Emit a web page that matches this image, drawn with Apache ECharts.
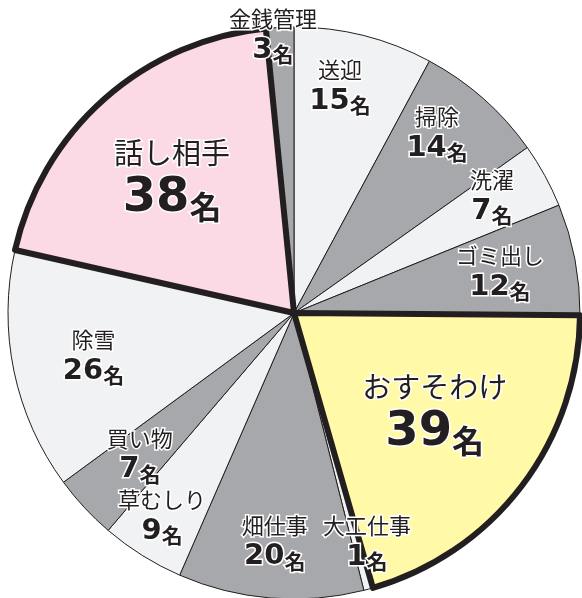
<!DOCTYPE html>
<html>
<head>
<meta charset="utf-8">
<style>
  html, body { margin: 0; padding: 0; background: #ffffff; }
  #chart { width: 582px; height: 598px; }
</style>
<script src="https://cdn.jsdelivr.net/npm/echarts@6/dist/echarts.min.js"></script>
</head>
<body>
<div id="chart"></div>
<script>
// ---- data ----
const categories = ['送迎', '掃除', '洗濯', 'ゴミ出し', 'おすそわけ', '大工仕事', '畑仕事', '草むしり', '買い物', '除雪', '話し相手', '金銭管理'];
const values = [15, 14, 7, 12, 39, 1, 20, 9, 7, 26, 38, 3];
const unit = '名';
const highlighted = ['おすそわけ', '話し相手'];

// ---- styling / layout config (not data) ----
const LIGHT = '#f1f2f4', DARK = '#a7a8ab', PINK = '#fbd9e5', YELLOW = '#fff9a8';
const sliceColors = [LIGHT, DARK, LIGHT, DARK, YELLOW, LIGHT, DARK, LIGHT, DARK, LIGHT, PINK, DARK];
const labelRadius = [232, 230, 230, 210, 172, 240, 229, 242, 209, 205, 182, 279];
const labelAngleShift = [-2.7, -3, -1.9, -0.5, -2.1, -2.6, 0.1, 1, 0.4, -0.3, -0.6, -1.5];
const CX = 294, CY = 313, R = 286;
const INK = '#231f20';
const FONT = '"Noto Sans CJK JP", "Noto Sans", sans-serif';
const NUMFONT = '"DejaVu Sans", "Noto Sans", sans-serif';

const total = values.reduce((a, b) => a + b, 0);
const midAngles = [];
{
  let acc = 0;
  values.forEach(v => { midAngles.push((acc + v / 2) / total * 360); acc += v; });
}

const chart = echarts.init(document.getElementById('chart'), null, { renderer: 'canvas' });

const txtBase = { color: INK, textBorderColor: '#ffffff', textBorderWidth: 3, fontFamily: FONT };
const rich = {
  n:  Object.assign({}, txtBase, { fontSize: 22, fontWeight: 'normal', lineHeight: 28 }),
  v:  Object.assign({}, txtBase, { fontFamily: NUMFONT, fontSize: 29, fontWeight: 'bold', lineHeight: 32, verticalAlign: 'bottom' }),
  u:  Object.assign({}, txtBase, { fontSize: 21, fontWeight: 'bold', lineHeight: 25, verticalAlign: 'bottom' }),
  N:  Object.assign({}, txtBase, { fontSize: 29, fontWeight: 'normal', lineHeight: 40 }),
  V:  Object.assign({}, txtBase, { fontFamily: NUMFONT, fontSize: 48, fontWeight: 'bold', lineHeight: 50, verticalAlign: 'bottom' }),
  U:  Object.assign({}, txtBase, { fontSize: 32, fontWeight: 'bold', lineHeight: 39, verticalAlign: 'bottom' })
};

const baseData = categories.map((name, i) => ({
  name: name,
  value: values[i],
  itemStyle: { color: sliceColors[i] }
}));

const outlineData = categories.map((name, i) => {
  const hi = highlighted.indexOf(name) >= 0;
  return {
    name: name,
    value: values[i],
    itemStyle: hi
      ? { color: 'rgba(0,0,0,0)', borderColor: INK, borderWidth: 6 }
      : { color: 'rgba(0,0,0,0)', borderWidth: 0 }
  };
});

chart.setOption({
  animation: false,
  backgroundColor: '#ffffff',
  series: [
    {
      type: 'pie',
      center: [CX, CY],
      radius: [0, R],
      startAngle: 90,
      clockwise: true,
      avoidLabelOverlap: false,
      silent: true,
      emphasis: { disabled: true },
      itemStyle: { borderColor: INK, borderWidth: 1 },
      data: baseData,
      labelLine: { show: false },
      label: { show: false }
    },
    {
      type: 'pie',
      center: [CX, CY],
      radius: [0, R],
      startAngle: 90,
      clockwise: true,
      avoidLabelOverlap: false,
      silent: true,
      z: 3,
      emphasis: { disabled: true },
      data: outlineData,
      labelLine: { show: false },
      label: {
        show: true,
        position: 'inside',
        rotate: 0,
        align: 'center',
        verticalAlign: 'middle',
        formatter: function (p) {
          const big = highlighted.indexOf(p.name) >= 0;
          return big
            ? '{N|' + p.name + '}\n{V|' + p.value + '}{U|' + unit + '}'
            : '{n|' + p.name + '}\n{v|' + p.value + '}{u|' + unit + '}';
        },
        rich: rich
      },
      labelLayout: function (params) {
        const i = params.dataIndex;
        const a = (midAngles[i] + labelAngleShift[i]) * Math.PI / 180;
        return {
          x: CX + labelRadius[i] * Math.sin(a),
          y: CY - labelRadius[i] * Math.cos(a),
          hideOverlap: false
        };
      }
    }
  ]
});
</script>
</body>
</html>
